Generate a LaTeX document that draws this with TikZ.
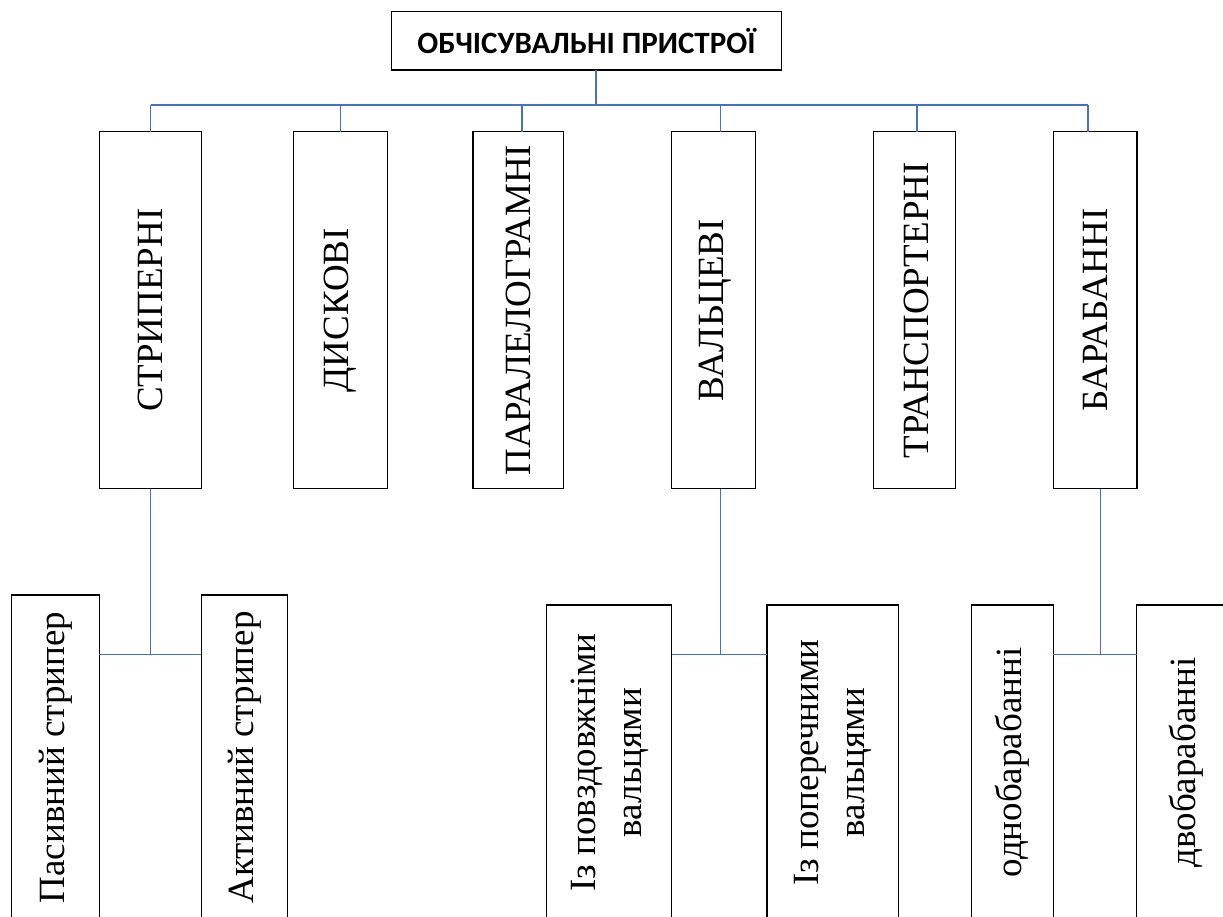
\documentclass[tikz,border=0pt]{standalone}
\usepackage{fontspec}
\setmainfont{Liberation Serif}
\newfontfamily\titlefont{Carlito}
\definecolor{linkblue}{HTML}{4472C4}
\begin{document}
\begin{tikzpicture}[x=1pt,y=-1pt,
  box/.style={draw=black,line width=1.5pt,inner sep=0pt,outer sep=0pt,anchor=north west,
    font=\fontsize{37}{46}\selectfont},
  mainbox/.style={box,minimum height=357pt},
  subbox/.style={box},
  conn/.style={draw=linkblue,line width=1.4pt}]
\useasboundingbox (0,0) rectangle (1223,916);
\clip (0,0) rectangle (1223,916);

% title
\node[box,minimum width=390pt,minimum height=58.5pt,font=\titlefont\bfseries\fontsize{31}{37}\selectfont]
  (top) at (391.5,11.5) {ОБЧІСУВАЛЬНІ ПРИСТРОЇ};

% main boxes
\node[mainbox,minimum width=102pt] (b1) at (99.3,131.7) {\rotatebox{90}{СТРИПЕРНІ}\hspace{14pt}};
\node[mainbox,minimum width=93.6pt] (b2) at (293.7,131.7) {\rotatebox{90}{ДИСКОВІ}\hspace{9pt}};
\node[mainbox,minimum width=90.3pt] (b3) at (473,131.7) {\rotatebox{90}{ПАРАЛЕЛОГРАМНІ}\hspace{3pt}};
\node[mainbox,minimum width=84pt] (b4) at (671.3,131.7) {\hspace{4pt}\rotatebox{90}{ВАЛЬЦЕВІ}};
\node[mainbox,minimum width=82pt] (b5) at (873.3,131.7) {\hspace{4pt}\rotatebox{90}{ТРАНСПОРТЕРНІ}};
\node[mainbox,minimum width=83.7pt] (b6) at (1053.3,131.7) {\rotatebox{90}{БАРАБАННІ}};

% sub boxes
\node[subbox,minimum width=87.6pt,minimum height=325pt] (p1) at (11.7,595) {\rotatebox{90}{Пасивний стрипер}};
\node[subbox,minimum width=86pt,minimum height=325pt] (p2) at (201.3,595) {\rotatebox{90}{Активний стрипер}};
\node[subbox,minimum width=125pt,minimum height=315pt] (p3) at (546.7,605)
  {\rotatebox{90}{\begin{tabular}{@{}c@{}}Із повздовжніми\\вальцями\end{tabular}}};
\node[subbox,minimum width=131.3pt,minimum height=315pt] (p4) at (767,605)
  {\rotatebox{90}{\begin{tabular}{@{}c@{}}Із поперечними\\вальцями\end{tabular}}};
\node[subbox,minimum width=81.6pt,minimum height=315pt] (p5) at (971.7,605) {\rotatebox{90}{однобарабанні}};
\node[subbox,minimum width=98pt,minimum height=315pt] (p6) at (1136.7,605) {\rotatebox{90}{двобарабанні}};

% bus and stubs
\coordinate (bus) at (596,105);
\coordinate (s1) at (150.5,105);
\coordinate (s2) at (340.7,105);
\coordinate (s3) at (522,105);
\coordinate (s4) at (720.3,105);
\coordinate (s5) at (916.8,105);
\coordinate (s6) at (1088,105);
\draw[conn] (bus) -- (bus |- top.south);
\draw[conn] (s1) -- (s6);
\foreach \i in {1,...,6} {\draw[conn] (s\i) -- (s\i |- b\i.north);}

% lower junctions
\coordinate (j1) at (150.5,654.5);
\coordinate (j2) at (720.5,654.3);
\coordinate (j3) at (1100.5,654.3);
\draw[conn] (j1 |- b1.south) -- (j1);
\draw[conn] (p1.east |- j1) -- (p2.west |- j1);
\draw[conn] (j2 |- b4.south) -- (j2);
\draw[conn] (p3.east |- j2) -- (p4.west |- j2);
\draw[conn] (j3 |- b6.south) -- (j3);
\draw[conn] (p5.east |- j3) -- (p6.west |- j3);
\end{tikzpicture}
\end{document}
